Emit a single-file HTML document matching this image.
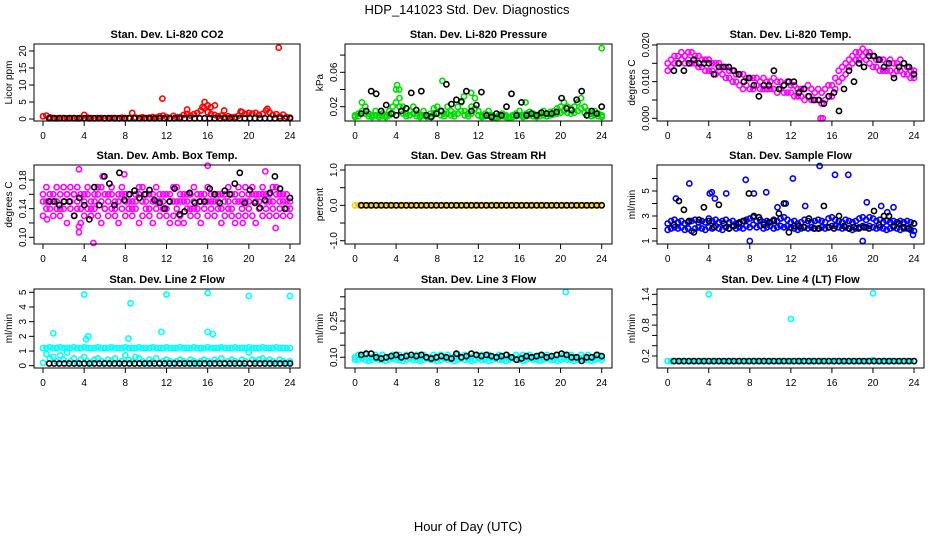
<!DOCTYPE html>
<html><head><meta charset="utf-8">
<style>
html,body{margin:0;padding:0;background:#fff;}
svg{display:block;font-family:"Liberation Sans",sans-serif;}
</style></head>
<body>
<svg id="chart" width="936" height="540" viewBox="0 0 936 540" xmlns="http://www.w3.org/2000/svg">
<text x="467" y="14" font-size="13" text-anchor="middle">HDP_141023  Std. Dev. Diagnostics</text>
<text x="468" y="531" font-size="13" text-anchor="middle">Hour of Day (UTC)</text>
</svg>
<script>
// ---------- data ----------
const xTicks = [0,4,8,12,16,20,24];
// Panel 1: CO2
const co2Red = [0.8,1.0,0.5,0.3,0.2,0.3,0.3,0.2,0.3,0.3,0.2,0.3,1.2,0.4,0.3,0.2,0.3,0.3,0.2,0.3,0.3,0.3,0.2,0.4,0.3,0.3,1.8,0.4,0.3,0.5,0.3,0.4,0.6,0.4,0.8,1.0,0.6,0.3,0.9,0.5,0.6,1.2,1.5,1.0,1.4,1.8,2.5,3.2,2.0,1.4,1.2,0.8,1.0,0.6,0.8,0.5,0.6,1.0,2.0,1.5,1.8,1.6,1.8,1.2,1.5,2.5,2.0,1.2,1.4,0.8,1.3,0.6,0.4];
const co2Black = [0.2,0.2,0.2,0.2,0.2,0.2,0.2,0.2,0.2,0.2,0.2,0.2,0.2,0.2,0.2,0.2,0.2,0.2,0.2,0.2,0.2,0.2,0.2,0.2,0.2,0.2,0.2,0.2,0.2,0.2,0.2,0.2,0.2,0.2,0.2,0.2,0.2,0.2,0.2,0.2,0.2,0.2,0.2,0.2,0.2,0.2,0.2,0.2,0.2];
const co2OutHours = [11.6,15.5,15.7,16.0,16.3,16.7,14.0,17.6,21.8,22.9,19.2];
const co2OutVals = [6,3.5,5,4,3.5,4,2.8,2.5,3,21,2.2];
const co2YTicks = [0,5,10,15,20];
const co2YLabels = ["0","5","10","15","20"];
// Panel 2: Pressure
const presGreenA = [0.01,0.012,0.025,0.02,0.012,0.01,0.015,0.01,0.012,0.01,0.015,0.02,0.04,0.03,0.02,0.012,0.015,0.02,0.012,0.01,0.015,0.01,0.012,0.018,0.02,0.015,0.012,0.02,0.015,0.012,0.02,0.025,0.015,0.012,0.02,0.03,0.015,0.01,0.012,0.015,0.01,0.008,0.01,0.012,0.01,0.008,0.01,0.012,0.015,0.01,0.012,0.014,0.012,0.01,0.012,0.015,0.012,0.014,0.015,0.018,0.02,0.025,0.02,0.018,0.02,0.025,0.03,0.02,0.015,0.012,0.015,0.012,0.01];
const presGreenB = [0.008,0.009,0.015,0.012,0.009,0.008,0.01,0.008,0.009,0.008,0.01,0.012,0.025,0.02,0.012,0.009,0.01,0.012,0.009,0.008,0.01,0.008,0.009,0.011,0.012,0.01,0.009,0.012,0.01,0.009,0.012,0.015,0.01,0.009,0.012,0.018,0.01,0.008,0.009,0.01,0.008,0.007,0.008,0.009,0.008,0.007,0.008,0.009,0.01,0.008,0.009,0.01,0.009,0.008,0.009,0.01,0.009,0.01,0.011,0.012,0.013,0.015,0.013,0.012,0.013,0.015,0.018,0.013,0.01,0.009,0.01,0.009,0.008];
const presBlack = [0.012,0.015,0.038,0.035,0.015,0.022,0.012,0.01,0.015,0.018,0.036,0.016,0.038,0.01,0.008,0.012,0.015,0.046,0.023,0.028,0.026,0.038,0.015,0.022,0.037,0.01,0.008,0.012,0.01,0.02,0.035,0.01,0.025,0.01,0.012,0.01,0.013,0.012,0.012,0.014,0.03,0.018,0.016,0.028,0.038,0.01,0.015,0.012,0.02];
const presOutHours = [4.1,4.3,8.5,10.6,11.3,16.6,24];
const presOutVals = [0.045,0.04,0.05,0.032,0.036,0.025,0.088];
const presYTicks = [0.02,0.04,0.06,0.08];
const presYLabels = ["0.02","","0.06",""];
// Panel 3: Li-820 Temp
const tempMagA = [0.015,0.016,0.017,0.017,0.018,0.017,0.018,0.018,0.017,0.017,0.016,0.016,0.016,0.015,0.015,0.015,0.014,0.014,0.013,0.013,0.012,0.012,0.012,0.011,0.011,0.011,0.011,0.010,0.011,0.010,0.010,0.011,0.010,0.010,0.009,0.010,0.009,0.009,0.008,0.008,0.008,0.009,0.008,0.007,0.008,0.007,0.008,0.009,0.009,0.011,0.013,0.014,0.015,0.016,0.017,0.018,0.018,0.019,0.018,0.018,0.017,0.016,0.016,0.016,0.015,0.016,0.015,0.015,0.016,0.015,0.014,0.013,0.013];
const tempMagB = [0.013,0.014,0.015,0.015,0.016,0.015,0.016,0.015,0.015,0.014,0.014,0.013,0.013,0.013,0.012,0.013,0.012,0.011,0.011,0.010,0.010,0.009,0.008,0.009,0.008,0.008,0.009,0.008,0.008,0.008,0.008,0.008,0.007,0.008,0.007,0.007,0.007,0.006,0.006,0.006,0.005,0.006,0.005,0.005,0.005,0.004,0.005,0.006,0.006,0.008,0.010,0.011,0.012,0.014,0.015,0.016,0.016,0.017,0.016,0.015,0.014,0.014,0.013,0.013,0.013,0.013,0.012,0.013,0.013,0.012,0.012,0.011,0.011];
const tempBlack = [0.013,0.015,0.013,0.015,0.016,0.015,0.015,0.015,0.012,0.014,0.014,0.014,0.013,0.012,0.010,0.011,0.009,0.006,0.009,0.009,0.013,0.008,0.009,0.010,0.010,0.007,0.008,0.006,0.005,0.005,0.004,0.006,0.007,0.002,0.008,0.013,0.010,0.015,0.014,0.017,0.017,0.016,0.014,0.015,0.011,0.014,0.015,0.014,0.012];
const tempOutHours = [14.9,15.1];
const tempOutVals = [0.0,0.0];
const tempYTicks = [0.000,0.005,0.010,0.015,0.020];
const tempYLabels = ["0.000","","0.010","","0.020"];
// Panel 4: Amb box temp
const ambMagA = [0.15,0.14,0.16,0.15,0.17,0.16,0.15,0.16,0.17,0.16,0.15,0.14,0.16,0.17,0.15,0.16,0.17,0.15,0.14,0.16,0.17,0.15,0.16,0.17,0.16,0.15,0.14,0.16,0.17,0.15,0.16,0.14,0.15,0.17,0.16,0.15,0.14,0.16,0.15,0.17,0.16,0.15,0.16,0.14,0.17,0.16,0.15,0.16,0.17,0.15,0.16,0.15,0.14,0.16,0.17,0.16,0.15,0.17,0.16,0.15,0.16,0.17,0.15,0.16,0.17,0.16,0.15,0.17,0.16,0.15,0.16,0.15,0.14];
const ambMagB = [0.13,0.15,0.14,0.13,0.14,0.13,0.14,0.12,0.14,0.13,0.14,0.12,0.13,0.14,0.13,0.14,0.13,0.12,0.14,0.13,0.14,0.13,0.12,0.14,0.13,0.14,0.13,0.14,0.12,0.13,0.14,0.13,0.12,0.14,0.13,0.14,0.13,0.12,0.13,0.14,0.13,0.12,0.14,0.13,0.14,0.13,0.12,0.14,0.13,0.14,0.13,0.14,0.12,0.13,0.14,0.13,0.12,0.13,0.14,0.13,0.14,0.13,0.12,0.14,0.13,0.14,0.13,0.14,0.13,0.14,0.13,0.14,0.13];
const ambMagC = [0.16,0.17,0.15,0.16,0.15,0.14,0.17,0.16,0.15,0.16,0.17,0.16,0.15,0.16,0.14,0.15,0.16,0.17,0.16,0.15,0.16,0.14,0.15,0.16,0.15,0.16,0.15,0.15,0.16,0.17,0.15,0.16,0.16,0.15,0.15,0.16,0.16,0.15,0.17,0.15,0.15,0.16,0.15,0.16,0.15,0.14,0.16,0.15,0.15,0.16,0.15,0.16,0.16,0.15,0.15,0.14,0.16,0.15,0.15,0.17,0.15,0.16,0.16,0.15,0.16,0.15,0.16,0.15,0.17,0.16,0.15,0.16,0.15];
const ambBlack = [0.15,0.15,0.145,0.15,0.15,0.13,0.155,0.145,0.125,0.17,0.145,0.185,0.175,0.145,0.19,0.152,0.16,0.165,0.155,0.16,0.166,0.152,0.148,0.14,0.15,0.168,0.132,0.136,0.162,0.148,0.15,0.15,0.168,0.16,0.148,0.165,0.16,0.175,0.19,0.148,0.166,0.148,0.141,0.152,0.162,0.185,0.168,0.14,0.155];
const ambOutHours = [3.5,3.5,3.5,4.9,5.8,7.9,16.0,21.6,22.6,0.4,19.4,13.1];
const ambOutVals = [0.195,0.115,0.107,0.092,0.185,0.188,0.2,0.192,0.113,0.125,0.12,0.12];
const ambYTicks = [0.10,0.12,0.14,0.16,0.18];
const ambYLabels = ["0.10","","0.14","","0.18"];
// Panel 5: RH
const rhYellow = [0,0,0,0,0,0,0,0,0,0,0,0,0,0,0,0,0,0,0,0,0,0,0,0,0,0,0,0,0,0,0,0,0,0,0,0,0,0,0,0,0,0,0,0,0,0,0,0,0,0,0,0,0,0,0,0,0,0,0,0,0,0,0,0,0,0,0,0,0,0,0,0,0];
const rhBlack = [0,0,0,0,0,0,0,0,0,0,0,0,0,0,0,0,0,0,0,0,0,0,0,0,0,0,0,0,0,0,0,0,0,0,0,0,0,0,0,0,0,0,0,0,0,0,0,0,0];
const rhYTicks = [-1.0,-0.5,0.0,0.5,1.0];
const rhYLabels = ["-1.0","","0.0","","1.0"];
// Panel 6: Sample flow
const sfBlueA = [2.4,2.6,2.7,2.5,2.6,2.4,2.5,2.6,2.7,2.5,2.6,2.5,2.8,2.6,2.7,2.5,2.6,2.7,2.5,2.6,2.4,2.5,2.6,2.7,2.8,2.9,2.6,2.7,2.5,2.6,2.5,2.7,2.6,2.8,2.9,2.7,2.5,2.6,2.4,2.5,2.7,2.6,2.5,2.6,2.7,2.6,2.5,2.8,2.9,2.7,2.6,2.5,2.7,2.6,2.5,2.6,2.8,2.9,2.7,2.9,2.8,2.6,2.7,2.5,2.6,2.5,2.6,2.5,2.6,2.5,2.6,2.5,2.4];
const sfBlueB = [1.9,2.0,2.1,2.0,2.1,1.9,2.0,1.8,2.0,2.1,2.0,1.9,2.1,2.0,2.2,2.0,1.9,2.1,2.0,2.2,2.0,2.1,2.0,2.2,2.1,2.3,2.1,2.2,2.0,2.1,2.2,2.0,2.1,2.2,2.1,2.2,2.1,2.0,1.9,2.0,2.1,2.0,2.1,2.0,2.0,2.1,2.0,2.1,2.2,2.2,2.1,2.0,2.1,2.0,1.9,2.0,2.1,2.2,2.1,2.2,2.1,2.0,2.1,2.0,1.9,2.0,2.1,2.0,1.9,2.0,2.0,1.9,1.8];
const sfBlack = [2.3,4.2,3.5,2.6,1.7,2.7,3.7,2.6,2.1,3.9,2.4,2.0,2.2,2.4,2.6,4.8,3.0,2.9,2.3,2.5,2.6,3.2,4.0,1.7,2.2,2.2,2.1,2.8,2.0,2.0,3.8,2.1,2.0,3.0,2.2,2.0,2.1,2.0,2.1,2.0,3.4,2.3,3.0,3.0,2.2,2.4,2.1,2.0,2.4];
const sfOutHours = [0.8,2.1,4.1,4.3,4.6,5.7,7.6,8.0,8.4,9.6,10.7,11.5,12.2,13.4,14.8,16.3,17.6,19.0,19.4,20.8,21.4,22.0,23.9];
const sfOutVals = [4.4,5.6,4.8,4.9,4.4,4.8,5.9,1.0,4.8,4.9,3.7,4.0,6.0,3.8,7.0,6.3,6.3,1.0,4.1,3.8,3.3,3.7,1.5];
const sfYTicks = [1,2,3,4,5,6];
const sfYLabels = ["1","","3","","5",""];
// Panel 7: Line 2 flow
const l2CyanA = [1.2,1.2,1.25,1.2,1.2,1.25,1.2,1.2,1.2,1.25,1.2,1.2,1.25,1.2,1.2,1.2,1.25,1.2,1.2,1.2,1.25,1.2,1.2,1.2,1.25,1.2,1.2,1.2,1.25,1.2,1.2,1.2,1.25,1.2,1.2,1.2,1.25,1.2,1.2,1.2,1.25,1.2,1.2,1.2,1.25,1.2,1.2,1.2,1.25,1.2,1.2,1.2,1.25,1.2,1.2,1.2,1.25,1.2,1.2,1.2,1.25,1.2,1.2,1.2,1.25,1.2,1.2,1.2,1.25,1.2,1.2,1.2,1.2];
const l2CyanB = [0.2,0.8,0.5,0.6,0.3,0.7,0.4,0.9,0.3,0.5,0.2,0.4,0.6,0.3,0.2,0.4,0.5,0.3,0.2,0.4,0.3,0.5,0.2,0.3,0.7,0.4,0.3,0.6,0.5,0.3,0.2,0.4,0.3,0.5,0.2,0.3,0.4,0.3,0.2,0.3,0.4,0.3,0.2,0.4,0.3,0.2,0.3,0.4,0.3,0.2,0.4,0.3,0.5,0.2,0.3,0.4,0.3,0.2,0.4,0.3,0.9,0.4,0.3,0.4,0.5,0.3,0.4,0.3,0.2,0.4,0.3,0.2,0.3];
const l2Black = [0.15,0.15,0.15,0.15,0.15,0.15,0.15,0.15,0.15,0.15,0.15,0.15,0.15,0.15,0.15,0.15,0.15,0.15,0.15,0.15,0.15,0.15,0.15,0.15,0.15,0.15,0.15,0.15,0.15,0.15,0.15,0.15,0.15,0.15,0.15,0.15,0.15,0.15,0.15,0.15,0.15,0.15,0.15,0.15,0.15,0.15,0.15,0.15,0.15];
const l2OutHours = [1.0,4.0,4.2,4.4,8.5,8.3,11.5,12.0,16.0,16.0,16.5,20.0,24.0];
const l2OutVals = [2.2,4.85,1.8,2.0,4.25,1.85,2.3,4.85,4.95,2.3,2.15,4.75,4.75];
const l2YTicks = [0,1,2,3,4,5];
const l2YLabels = ["0","1","2","3","4","5"];
// Panel 8: Line 3 flow
const l3CyanA = [0.10,0.11,0.10,0.11,0.10,0.10,0.11,0.10,0.11,0.10,0.10,0.11,0.10,0.11,0.10,0.11,0.10,0.10,0.11,0.10,0.11,0.10,0.10,0.11,0.10,0.11,0.10,0.11,0.10,0.10,0.11,0.10,0.11,0.10,0.10,0.11,0.10,0.11,0.10,0.11,0.10,0.10,0.11,0.10,0.11,0.10,0.10,0.11,0.10,0.11,0.10,0.11,0.10,0.10,0.11,0.10,0.11,0.10,0.10,0.11,0.10,0.11,0.10,0.11,0.10,0.10,0.11,0.10,0.11,0.10,0.10,0.11,0.10];
const l3CyanB = [0.09,0.09,0.095,0.09,0.085,0.09,0.095,0.09,0.09,0.085,0.09,0.095,0.09,0.09,0.085,0.09,0.095,0.09,0.09,0.085,0.09,0.095,0.09,0.09,0.085,0.09,0.095,0.09,0.09,0.085,0.09,0.095,0.09,0.09,0.085,0.09,0.095,0.09,0.09,0.085,0.09,0.095,0.09,0.09,0.085,0.09,0.095,0.09,0.09,0.085,0.09,0.095,0.09,0.09,0.085,0.09,0.095,0.09,0.09,0.085,0.09,0.095,0.09,0.09,0.085,0.09,0.095,0.09,0.09,0.085,0.09,0.095,0.09];
const l3Black = [0.11,0.115,0.115,0.10,0.095,0.10,0.105,0.11,0.10,0.105,0.11,0.105,0.11,0.10,0.095,0.10,0.105,0.10,0.095,0.115,0.10,0.105,0.115,0.11,0.105,0.11,0.105,0.10,0.105,0.11,0.10,0.09,0.095,0.105,0.10,0.105,0.11,0.10,0.105,0.11,0.115,0.11,0.10,0.10,0.085,0.10,0.10,0.11,0.105];
const l3OutHours = [20.5];
const l3OutVals = [0.37];
const l3YTicks = [0.10,0.15,0.20,0.25,0.30,0.35];
const l3YLabels = ["0.10","","","0.25","",""];
// Panel 9: Line 4 flow
const l4Cyan = [0.1,0.1,0.1,0.1,0.1,0.1,0.1,0.1,0.1,0.1,0.1,0.1,0.1,0.1,0.1,0.1,0.1,0.1,0.1,0.1,0.1,0.1,0.1,0.1,0.1,0.1,0.1,0.1,0.1,0.1,0.1,0.1,0.1,0.1,0.1,0.1,0.1,0.1,0.1,0.1,0.1,0.1,0.1,0.1,0.1,0.1,0.1,0.1,0.1,0.1,0.1,0.1,0.1,0.1,0.1,0.1,0.1,0.1,0.1,0.1,0.12,0.1,0.1,0.1,0.1,0.1,0.1,0.1,0.1,0.1,0.1,0.1,0.1];
const l4Black = [0.1,0.1,0.1,0.1,0.1,0.1,0.1,0.1,0.1,0.1,0.1,0.1,0.1,0.1,0.1,0.1,0.1,0.1,0.1,0.1,0.1,0.1,0.1,0.1,0.1,0.1,0.1,0.1,0.1,0.1,0.1,0.1,0.1,0.1,0.1,0.1,0.1,0.1,0.1,0.1,0.1,0.1,0.1,0.1,0.1,0.1,0.1,0.1,0.1];
const l4OutHours = [4.0,12.0,20.0];
const l4OutVals = [1.4,0.92,1.42];
const l4YTicks = [0.2,0.4,0.6,0.8,1.0,1.2,1.4];
const l4YLabels = ["0.2","","","0.8","","","1.4"];

// ---------- layout ----------
const NS = "http://www.w3.org/2000/svg";
const svg = document.getElementById('chart');
const colL = [34,345,657], colR = [300,612,924];
const colX0 = [43,355,667.7], colX24 = [290,601.7,914];
const rowT = [44,165,289], rowB = [121,244,368];

function mk(tag, attrs, parent){
  const e = document.createElementNS(NS, tag);
  for (const k in attrs) e.setAttribute(k, attrs[k]);
  (parent||svg).appendChild(e);
  return e;
}

function panel(id, c, r, title, ylab, ymap, yTicks, yLabels, layers){
  const g = mk('g', {});
  
  
  const L = colL[c], R = colR[c], T = rowT[r], B = rowB[r];
  const xs = h => colX0[c] + (colX24[c]-colX0[c]) * h / 24;
  const ys = v => ymap[1] + (ymap[3]-ymap[1]) * (v - ymap[0]) / (ymap[2]-ymap[0]);
  const t = mk('text', {x:(L+R)/2, y:T-6, 'font-size':11, 'font-weight':'bold', 'text-anchor':'middle'}, g);
  t.textContent = title;
  
  
  const yl = mk('text', {x:0, y:0, 'font-size':10, 'text-anchor':'middle', transform:`translate(${L-22},${(T+B)/2}) rotate(-90)`}, g);
  yl.textContent = ylab;
  
  
  // points
  const pg = mk('g', {}, g);
  
  
  layers.forEach(ly => {
    const n = ly.vals.length;
    ly.vals.forEach((v, i) => {
      const h = ly.hours ? ly.hours[i] : (ly.h0 || 0) + ((ly.h1 || 24) - (ly.h0 || 0)) * i / (n - 1);
      const cy = ys(v);
      if (cy < T-2 || cy > B+2) return;
      const ci = mk('circle', {cx:xs(h).toFixed(1), cy:cy.toFixed(1), r:2.6, fill:'none', stroke:ly.color, 'stroke-width':1.6}, pg);
      
      
    });
  });
  // box
  const bx = mk('rect', {x:L, y:T, width:R-L, height:B-T, fill:'none', stroke:'#000', 'stroke-width':1}, g);
  
  
  // x axis
  const xa = mk('g', {}, g);
  
  
  mk('line', {x1:xs(xTicks[0]), x2:xs(xTicks[xTicks.length-1]), y1:B, y2:B, stroke:'#000'}, xa);
  xTicks.forEach(v => {
    mk('line', {x1:xs(v), x2:xs(v), y1:B, y2:B+5, stroke:'#000'}, xa);
    const tl = mk('text', {x:xs(v), y:B+18, 'font-size':10, 'text-anchor':'middle'}, xa);
    tl.textContent = String(v);
    
    
  });
  // y axis
  const ya = mk('g', {}, g);
  
  
  mk('line', {x1:L, x2:L, y1:ys(yTicks[0]), y2:ys(yTicks[yTicks.length-1]), stroke:'#000'}, ya);
  yTicks.forEach((v, i) => {
    const y = ys(v);
    mk('line', {x1:L-5, x2:L, y1:y, y2:y, stroke:'#000'}, ya);
    if (yLabels[i]) {
      const tl = mk('text', {x:0, y:0, 'font-size':10, 'text-anchor':'middle', transform:`translate(${L-8},${y}) rotate(-90)`}, ya);
      tl.textContent = yLabels[i];
      
      
    }
  });
}

panel('co2', 0, 0, 'Stan. Dev. Li-820 CO2', 'Licor ppm', [0,119,20,51], co2YTicks, co2YLabels, [
  {vals:co2Red, color:'#ff0000', name:'co2-point'},
  {vals:co2OutVals, hours:co2OutHours, color:'#ff0000', name:'co2-outlier'},
  {vals:co2Black, color:'#000', name:'co2-ref-point', h0:0.6}
]);
panel('pressure', 1, 0, 'Stan. Dev. Li-820 Pressure', 'kPa', [0.02,106.7,0.06,72.3], presYTicks, presYLabels, [
  {vals:presGreenB, color:'#00dd00', name:'pressure-point'},
  {vals:presGreenA, color:'#00dd00', name:'pressure-point'},
  {vals:presOutVals, hours:presOutHours, color:'#00dd00', name:'pressure-outlier'},
  {vals:presBlack, color:'#000', name:'pressure-ref-point', h0:0.6}
]);
panel('temp', 2, 0, 'Stan. Dev. Li-820 Temp.', 'degrees C', [0,118.3,0.02,45], tempYTicks, tempYLabels, [
  {vals:tempMagB, color:'#ff00ff', name:'temp-point'},
  {vals:tempMagA, color:'#ff00ff', name:'temp-point'},
  {vals:tempOutVals, hours:tempOutHours, color:'#ff00ff', name:'temp-outlier'},
  {vals:tempBlack, color:'#000', name:'temp-ref-point', h0:0.6}
]);
panel('amb', 0, 1, 'Stan. Dev. Amb. Box Temp.', 'degrees C', [0.10,237.3,0.18,180], ambYTicks, ambYLabels, [
  {vals:ambMagB, color:'#ff00ff', name:'amb-point'},
  {vals:ambMagA, color:'#ff00ff', name:'amb-point'},
  {vals:ambMagC, color:'#ff00ff', name:'amb-point'},
  {vals:ambOutVals, hours:ambOutHours, color:'#ff00ff', name:'amb-outlier'},
  {vals:ambBlack, color:'#000', name:'amb-ref-point', h0:0.6}
]);
panel('rh', 1, 1, 'Stan. Dev. Gas Stream RH', 'percent', [1.0,170,-1.0,240.7], rhYTicks, rhYLabels, [
  {vals:rhYellow, color:'#ffcc00', name:'rh-point'},
  {vals:rhBlack, color:'#000', name:'rh-ref-point', h0:0.6}
]);
panel('sample', 2, 1, 'Stan. Dev. Sample Flow', 'ml/min', [1,241,5,191], sfYTicks, sfYLabels, [
  {vals:sfBlueB, color:'#0000ff', name:'sample-point'},
  {vals:sfBlueA, color:'#0000ff', name:'sample-point'},
  {vals:sfOutVals, hours:sfOutHours, color:'#0000ff', name:'sample-outlier'},
  {vals:sfBlack, color:'#000', name:'sample-ref-point', h0:0.6}
]);
panel('line2', 0, 2, 'Stan. Dev. Line 2 Flow', 'ml/min', [0,365.7,5,292.3], l2YTicks, l2YLabels, [
  {vals:l2CyanB, color:'#00ffff', name:'line2-point'},
  {vals:l2CyanA, color:'#00ffff', name:'line2-point'},
  {vals:l2OutVals, hours:l2OutHours, color:'#00ffff', name:'line2-outlier'},
  {vals:l2Black, color:'#000', name:'line2-ref-point', h0:0.6}
]);
panel('line3', 1, 2, 'Stan. Dev. Line 3 Flow', 'ml/min', [0.10,357.3,0.25,321], l3YTicks, l3YLabels, [
  {vals:l3CyanB, color:'#00ffff', name:'line3-point'},
  {vals:l3CyanA, color:'#00ffff', name:'line3-point'},
  {vals:l3OutVals, hours:l3OutHours, color:'#00ffff', name:'line3-outlier'},
  {vals:l3Black, color:'#000', name:'line3-ref-point', h0:0.6}
]);
panel('line4', 2, 2, 'Stan. Dev. Line 4 (LT) Flow', 'ml/min', [0.2,356,1.4,294.3], l4YTicks, l4YLabels, [
  {vals:l4Cyan, color:'#00ffff', name:'line4-point'},
  {vals:l4OutVals, hours:l4OutHours, color:'#00ffff', name:'line4-outlier'},
  {vals:l4Black, color:'#000', name:'line4-ref-point', h0:0.6}
]);
</script>
</body></html>
